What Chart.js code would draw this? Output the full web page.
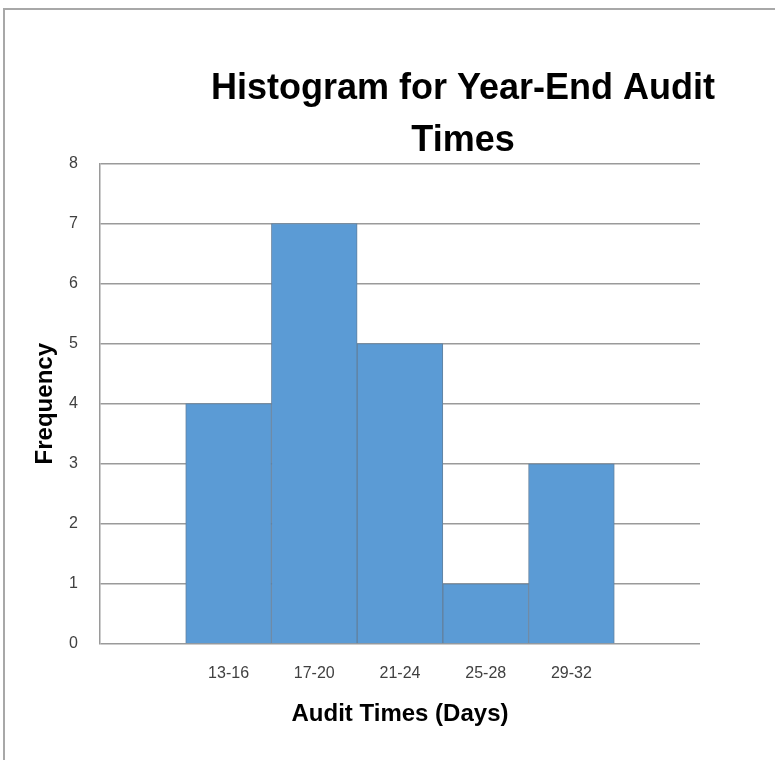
<!DOCTYPE html>
<html>
<head>
<meta charset="utf-8">
<script src="https://cdn.jsdelivr.net/npm/chart.js@4.4.1/dist/chart.umd.min.js"></script>
<style>
  html, body { margin: 0; padding: 0; background: #ffffff; }
  #wrap { position: relative; width: 775px; height: 760px; }
  #frame { position: absolute; left: 3px; top: 8px; right: 0; bottom: 0;
           border-top: 2px solid #a8a8a8; border-left: 2px solid #a8a8a8; pointer-events: none; }
</style>
</head>
<body>
<div id="wrap">
  <canvas id="c" width="775" height="760"></canvas>
  <div id="frame"></div>
</div>
<script>
const categories = ['', '13-16', '17-20', '21-24', '25-28', '29-32', ''];
const frequencies = [null, 4, 7, 5, 1, 3, null];
const yTicks = [0, 1, 2, 3, 4, 5, 6, 7, 8];
const titleLines = ['Histogram for Year-End Audit', 'Times'];
const xTitle = 'Audit Times (Days)';
const yTitle = 'Frequency';

const shiftTitle = {
  id: 'shiftTitle',
  afterLayout(chart) {
    const tb = chart.titleBlock;
    const ca = chart.chartArea;
    if (!tb) return;
    const w = tb.right - tb.left;
    const cx = (ca.left + ca.right) / 2 + 63;
    tb.left = cx - w / 2;
    tb.right = cx + w / 2;
    tb.top += 4;
    tb.bottom += 4;
  }
};

new Chart(document.getElementById('c'), {
  type: 'bar',
  data: {
    labels: categories,
    datasets: [{
      data: frequencies,
      backgroundColor: '#5B9BD5',
      borderColor: '#62819f',
      borderWidth: 1,
      barPercentage: 1.0,
      categoryPercentage: 1.0
    }]
  },
  options: {
    responsive: false,
    animation: false,
    layout: { padding: { left: 0, right: 75, top: 0, bottom: 31 } },
    plugins: {
      legend: { display: false },
      tooltip: { enabled: false },
      title: {
        display: true,
        text: titleLines,
        color: '#000000',
        font: { family: 'Liberation Sans', size: 36, weight: 'bold', lineHeight: 1.45 },
        padding: { top: 59, bottom: 0 }
      }
    },
    scales: {
      x: {
        grid: { display: false, drawTicks: false },
        border: { display: false },
        ticks: {
          color: '#404040',
          font: { family: 'Liberation Sans', size: 16 },
          padding: 20,
          autoSkip: false,
          maxRotation: 0
        },
        title: {
          display: true,
          text: xTitle,
          color: '#000000',
          font: { family: 'Liberation Sans', size: 24, weight: 'bold', lineHeight: 1.2 },
          padding: { top: -3, bottom: 0 }
        }
      },
      y: {
        min: 0,
        max: 8,
        afterFit(scale) { scale.width = 100; },
        afterBuildTicks(scale) { scale.ticks = yTicks.map(v => ({ value: v })); },
        grid: { color: '#9a9a9a', lineWidth: 1.5, drawTicks: false },
        border: { display: true, color: '#9a9a9a', width: 1.5 },
        ticks: {
          color: '#404040',
          font: { family: 'Liberation Sans', size: 16 },
          padding: 22
        },
        title: {
          display: true,
          text: yTitle,
          color: '#000000',
          font: { family: 'Liberation Sans', size: 24, weight: 'bold', lineHeight: 1.2 },
          padding: { top: 31, bottom: 0 }
        }
      }
    }
  },
  plugins: [shiftTitle]
});
</script>
</body>
</html>
